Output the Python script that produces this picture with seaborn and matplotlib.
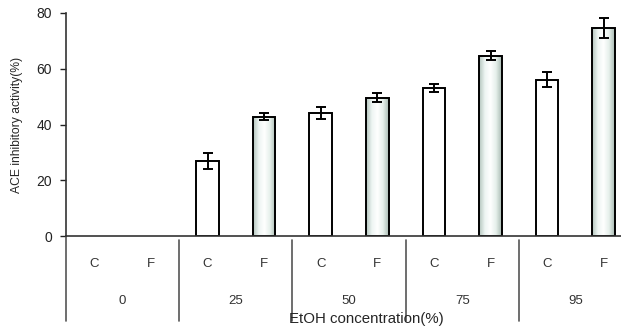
import numpy as np
import pandas as pd
import seaborn as sns
import matplotlib
matplotlib.use("Agg")
import matplotlib.pyplot as plt
from matplotlib.colors import LinearSegmentedColormap
import matplotlib.transforms as mtransforms

sns.set_style("white")
plt.rcParams['font.family'] = ['Liberation Sans', 'DejaVu Sans']

# data
groups = ["0", "25", "50", "75", "95"]
kinds = ["C", "F"]
activity = [0, 0, 26.8, 42.8, 44.2, 49.6, 53.0, 64.6, 56.1, 74.6]
errors = [0, 0, 2.9, 1.3, 2.1, 1.7, 1.4, 1.6, 2.8, 3.6]

slots = [g + "_" + k for g in groups for k in kinds]
df = pd.DataFrame({"slot": slots, "activity": activity,
                   "kind": [k for g in groups for k in kinds]})

fig = plt.figure(figsize=(6.21, 3.29), dpi=100)
ax = fig.add_axes([66 / 621, 1 - 236 / 329, 566 / 621, 223 / 329])

sns.barplot(data=df, x="slot", y="activity", order=slots, color="white",
            edgecolor="black", linewidth=1.4, width=0.4, errorbar=None,
            saturation=1, ax=ax)

# error bars, only where there is a bar
for i, (v, e) in enumerate(zip(activity, errors)):
    if v > 0:
        ax.errorbar(i, v, yerr=e, color="black", lw=1.4, capsize=3.5,
                    capthick=1.4, zorder=5)

# shaded fill for the F bars
cmap = LinearSegmentedColormap.from_list(
    "shade", [(0.70, 0.77, 0.74), (0.93, 0.96, 0.95), (1, 1, 1),
              (0.90, 0.94, 0.92), (0.66, 0.73, 0.70)])
grad = np.linspace(0, 1, 64).reshape(1, -1)
for i, p in enumerate(ax.patches[:len(slots)]):
    if activity[i] <= 0:
        p.set_visible(False)
    elif df["kind"][i] == "F":
        x0, w, h = p.get_x(), p.get_width(), p.get_height()
        im = ax.imshow(grad, cmap=cmap, aspect="auto",
                       extent=[x0, x0 + w, 0, h], zorder=p.get_zorder() - 0.1)
        im.set_clip_path(p)
        p.set_facecolor("none")

ax.set_xlim(-0.5, len(slots) - 0.5)
ax.set_ylim(0, 80)
ax.set_yticks([0, 20, 40, 60, 80])
ax.tick_params(axis="y", direction="out", length=4, width=1, pad=6,
               labelsize=10, left=True, colors="#222222")
ax.set_xticks(range(len(slots)))
ax.set_xticklabels([s.split("_")[1] for s in slots], fontsize=9.5,
                   color="#333333")
ax.tick_params(axis="x", length=0, pad=16)
ax.set_xlabel("")
ax.set_ylabel("ACE inhibitory activity(%)", fontsize=8.7)
ax.yaxis.set_label_coords(-0.076, 0.5)

for s in ["top", "right"]:
    ax.spines[s].set_visible(False)
for s in ["left", "bottom"]:
    ax.spines[s].set_color("#333333")
    ax.spines[s].set_linewidth(1.2)

# table-style separators below the axis
trans = mtransforms.blended_transform_factory(ax.transData, ax.transAxes)
for j in range(len(groups)):
    xs = 2 * j - 0.5
    top = 0 if j == 0 else -0.02
    ax.plot([xs, xs], [top, -0.38], color="#555555", lw=1.2,
            transform=trans, clip_on=False)
    ax.text(2 * j + 0.5, -0.29, groups[j], transform=trans, ha="center",
            va="center", fontsize=9.5, color="#333333")

lab_trans = mtransforms.blended_transform_factory(fig.transFigure, ax.transAxes)
ax.text(366 / 621, -0.37, "EtOH concentration(%)", transform=lab_trans,
        ha="center", va="center", fontsize=10.8)

fig.savefig("out.png", dpi=100)
